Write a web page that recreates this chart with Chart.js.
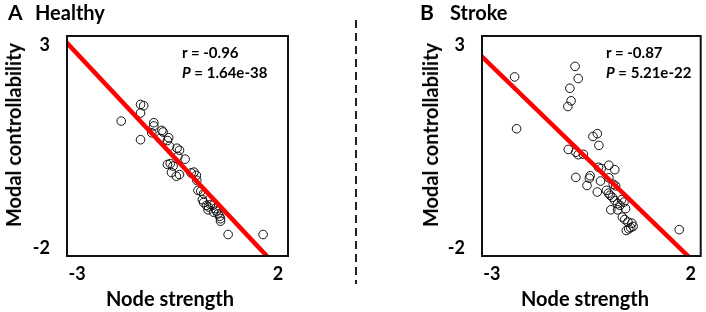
<!DOCTYPE html>
<html>
<head>
<meta charset="utf-8">
<script src="https://cdn.jsdelivr.net/npm/chart.js@4"></script>
<style>
  html, body { margin: 0; padding: 0; background: #fff; }
  body { width: 706px; height: 312px; position: relative; overflow: hidden; font-family: Lato, "Open Sans", sans-serif; font-weight: bold; color: #000; }
  .panel { position: absolute; top: 0; height: 312px; }
  .lbl { position: absolute; white-space: nowrap; line-height: 24px; }
  .head { font-size: 20px; top: 0; }
  .xt { font-size: 20px; top: 286px; transform: translateX(-50%); }
  .yt { font-size: 20px; transform: translate(-50%, -50%) rotate(-90deg); }
  .stat { font-size: 15px; line-height: 20px; top: 42px; }
  .divider { position: absolute; left: 355px; top: 20px; width: 2px; height: 264px;
    background: repeating-linear-gradient(to bottom, #222 0 8px, transparent 8px 13px); }
</style>
</head>
<body>
  <div class="panel" style="left:0;width:353px"><canvas id="healthyChart" width="353" height="312"></canvas></div>
  <div class="panel" style="left:415px;width:291px"><canvas id="strokeChart" width="291" height="312"></canvas></div>
  <div class="divider"></div>

  <div class="lbl head" style="left:8px;font-size:21px">A</div>
  <div class="lbl head" style="left:35px">Healthy</div>
  <div class="lbl head" style="left:420px;font-size:21px">B</div>
  <div class="lbl head" style="left:450px">Stroke</div>

  <div class="lbl yt" style="left:13px;top:135px">Modal controllability</div>
  <div class="lbl yt" style="left:430px;top:135px">Modal controllability</div>
  <div class="lbl xt" style="left:170px">Node strength</div>
  <div class="lbl xt" style="left:585px">Node strength</div>

  <div class="lbl stat" style="left:182px">r = -0.96<br><i>P</i> = 1.64e-38</div>
  <div class="lbl stat" style="left:606px">r = -0.87<br><i>P</i> = 5.21e-22</div>

<script>
// axis range and the two labelled ticks
const xRange = [-3.25, 2.25];
const yRange = [-2.2, 3.23];
const xTicks = [-3, 2];
const yTicks = [-2, 3];

// Healthy: node strength vs modal controllability
const healthyX = [-1.90, -1.42, -1.34, -1.42, -1.42, -1.09, -1.09, -1.14, -0.89, -0.86, -0.93, -0.72, -0.75, -0.70, -0.51, -0.45,
  -0.49, -0.31, -0.75, -0.68, -0.61, -0.65, -0.53, -0.45, -0.16, -0.09, -0.03, -0.02, 0.01, 0.08, 0.15, 0.12, 0.15, 0.27, 0.32,
  0.38, 0.44, 0.47, 0.51, 0.55, 0.57, 0.57, 0.26, 0.22, 0.40, 0.76, 1.63];
const healthyY = [1.13, 1.54, 1.51, 1.33, 0.67, 1.09, 1.01, 0.84, 0.90, 0.86, 0.70, 0.72, 0.65, 0.51, 0.46, 0.41,
  0.26, 0.19, 0.06, 0.08, 0.02, -0.14, -0.23, -0.19, -0.15, -0.13, -0.21, -0.33, -0.58, -0.60, -0.66, -0.81, -0.88, -0.99, -0.93,
  -0.95, -1.03, -1.09, -1.16, -1.22, -1.28, -1.34, -1.06, -0.95, -1.12, -1.67, -1.67];
const healthyFitX = [-3.26, 1.73];
const healthyFitY = [3.07, -2.21];

// Stroke
const strokeX = [-2.43, -2.38, -0.91, -0.83, -1.04, -1.01, -1.09, -0.46, -0.35, -0.31, -1.08, -0.89, -0.83, -0.70, -0.32, -0.25,
  -0.06, 0.09, -0.89, -0.53, -0.55, -0.61, -0.35, -0.27, -0.06, 0.05, 0.11, -0.12, -0.07, -0.03, 0.03, 0.09, 0.16, 0.22, 0.26,
  0.32, 0.36, -0.01, 0.16, 0.28, 0.34, 0.42, 0.52, 0.55, 0.44, 0.38, 0.49, 1.71];
const strokeY = [2.22, 0.94, 2.48, 2.18, 1.94, 1.63, 1.49, 0.75, 0.82, 0.53, 0.43, 0.36, 0.30, 0.31, -0.01, -0.04,
  0.04, -0.07, -0.26, -0.22, -0.28, -0.46, -0.62, -0.35, -0.27, -0.43, -0.47, -0.58, -0.65, -0.70, -0.75, -0.83, -0.91, -0.95, -0.81,
  -0.87, -1.03, -1.06, -1.06, -1.24, -1.30, -1.36, -1.39, -1.47, -1.53, -1.57, -1.50, -1.55];
const strokeFitX = [-3.26, 1.94];
const strokeFitY = [2.73, -2.21];

const font = { family: "Lato, 'Open Sans', sans-serif", size: 18, weight: "bold" };

// closed box round the plot area
const frame = {
  id: "frame",
  afterDraw(chart) {
    const a = chart.chartArea;
    const ctx = chart.ctx;
    ctx.save();
    ctx.strokeStyle = "#111";
    ctx.lineWidth = 2;
    ctx.strokeRect(a.left, a.top, a.right - a.left, a.bottom - a.top);
    ctx.restore();
  },
};

const pair = (xs, ys) => xs.map((x, i) => ({ x, y: ys[i] }));

function makeChart(id, xs, ys, fx, fy, padRight) {
  return new Chart(document.getElementById(id), {
    type: "scatter",
    data: {
      datasets: [
        { type: "line", data: pair(fx, fy), borderColor: "#ff0000", borderWidth: 4.5, pointRadius: 0, order: 0 },
        { data: pair(xs, ys), pointRadius: 4.3, borderWidth: 1, borderColor: "#111", backgroundColor: "rgba(0,0,0,0)", order: 1 },
      ],
    },
    options: {
      responsive: false,
      animation: false,
      devicePixelRatio: 1,
      layout: { padding: { left: 0, top: 36, right: padRight, bottom: 0 } },
      plugins: { legend: { display: false }, tooltip: { enabled: false } },
      scales: {
        x: {
          type: "linear", min: xRange[0], max: xRange[1],
          grid: { display: false, drawTicks: false }, border: { display: false },
          afterBuildTicks: (s) => { s.ticks = xTicks.map((v) => ({ value: v })); },
          afterFit: (s) => { s.height = 56; },
          ticks: { color: "#000", font, padding: 7, maxRotation: 0 },
        },
        y: {
          type: "linear", min: yRange[0], max: yRange[1],
          grid: { display: false, drawTicks: false }, border: { display: false },
          afterBuildTicks: (s) => { s.ticks = yTicks.map((v) => ({ value: v })); },
          afterFit: (s) => { s.width = 67; },
          ticks: { color: "#000", font, padding: 17 },
        },
      },
    },
    plugins: [frame],
  });
}

document.addEventListener("DOMContentLoaded", function () {
  makeChart("healthyChart", healthyX, healthyY, healthyFitX, healthyFitY, 65);
  makeChart("strokeChart", strokeX, strokeY, strokeFitX, strokeFitY, 3);
});
</script>
</body>
</html>
